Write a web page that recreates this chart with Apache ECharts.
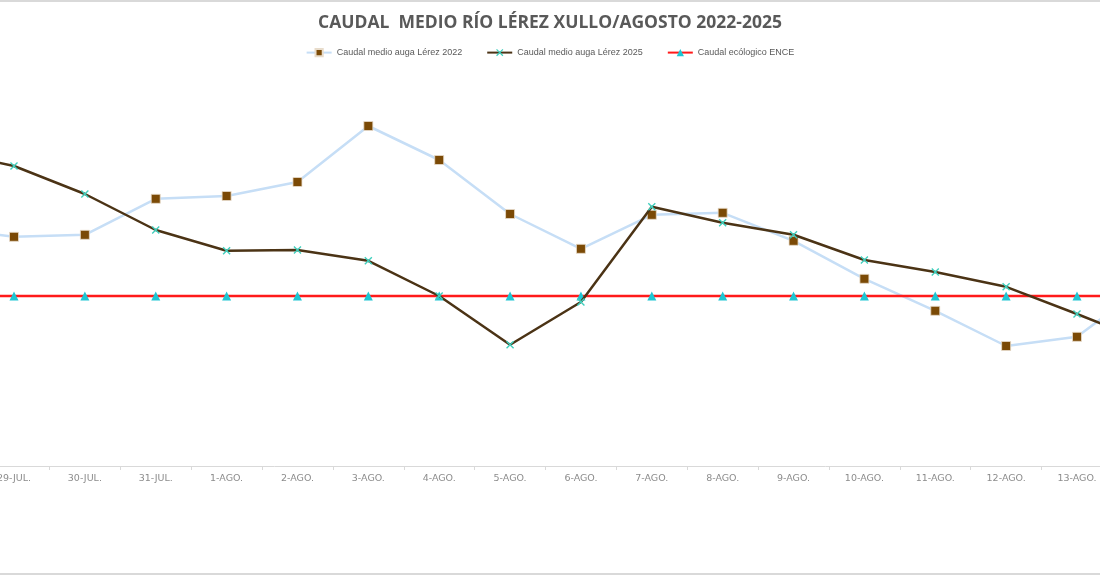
<!DOCTYPE html>
<html>
<head>
<meta charset="utf-8">
<script src="https://cdn.jsdelivr.net/npm/echarts@6/dist/echarts.min.js"></script>
<style>
html,body{margin:0;padding:0;background:#fff;}
#chart{width:1100px;height:575px;}
</style>
</head>
<body>
<div id="chart"></div>
<script>
// Categories (28-JUL and 14-AGO lie just outside the visible frame, as in the reference)
const categories = ['28-JUL.','29-JUL.','30-JUL.','31-JUL.','1-AGO.','2-AGO.','3-AGO.','4-AGO.','5-AGO.','6-AGO.','7-AGO.','8-AGO.','9-AGO.','10-AGO.','11-AGO.','12-AGO.','13-AGO.','14-AGO.'];
// Series values (hidden y-axis)
const caudal2022 = [5.97,5.73,5.78,6.68,6.75,7.10,8.50,7.65,6.30,5.43,6.28,6.33,5.63,4.68,3.88,3.00,3.23,4.55];
const caudal2025 = [7.88,7.50,6.80,5.90,5.38,5.40,5.13,4.25,3.03,4.10,6.48,6.08,5.78,5.15,4.85,4.48,3.80,3.10];
const caudalEcoloxico = [4.25,4.25,4.25,4.25,4.25,4.25,4.25,4.25,4.25,4.25,4.25,4.25,4.25,4.25,4.25,4.25,4.25,4.25];
const seriesNames = ['Caudal medio auga Lérez 2022','Caudal medio auga Lérez 2025','Caudal ecólogico ENCE'];
const titleText = 'CAUDAL  MEDIO RÍO LÉREZ XULLO/AGOSTO 2022-2025';

const xSymbol = 'path://M0,1.2 L1.2,0 L5,3.8 L8.8,0 L10,1.2 L6.2,5 L10,8.8 L8.8,10 L5,6.2 L1.2,10 L0,8.8 L3.8,5 Z';

const chart = echarts.init(document.getElementById('chart'));
chart.setOption({
  backgroundColor: '#ffffff',
  animation: false,
  title: {
    text: titleText,
    left: 'center',
    top: 9,
    textStyle: {
      fontFamily: 'Open Sans',
      fontSize: 17.5,
      fontWeight: 'bold',
      color: '#595959'
    }
  },
  legend: {
    top: 43,
    left: 'center',
    itemGap: 24,
    itemWidth: 25,
    itemHeight: 9,
    textStyle: {
      fontFamily: 'Liberation Sans Narrow, Liberation Sans, sans-serif',
      fontSize: 9,
      color: '#595959'
    },
    data: seriesNames
  },
  graphic: [
    {type:'line', shape:{x1:0,y1:1,x2:1100,y2:1}, style:{stroke:'#d9d9d9', lineWidth:2}, silent:true},
    {type:'line', shape:{x1:0,y1:574,x2:1100,y2:574}, style:{stroke:'#d9d9d9', lineWidth:2}, silent:true}
  ],
  grid: {
    left: -92.3,
    right: -83.3,
    top: 66,
    bottom: 109,
    containLabel: false,
    outerBoundsMode: 'none'
  },
  xAxis: {
    type: 'category',
    data: categories,
    boundaryGap: true,
    axisLine: {lineStyle: {color: '#d9d9d9', width: 1}},
    axisTick: {show: true, length: 4, lineStyle: {color: '#d9d9d9'}},
    axisLabel: {
      color: '#8c8c8c',
      fontFamily: 'DejaVu Sans',
      fontSize: 9.5,
      margin: 8,
      interval: 0
    },
    splitLine: {show: false}
  },
  yAxis: {
    type: 'value',
    min: 0,
    max: 10,
    show: false,
    splitLine: {show: false}
  },
  series: [
    {
      name: seriesNames[0],
      type: 'line',
      data: caudal2022,
      z: 2,
      symbol: 'rect',
      symbolSize: 9,
      lineStyle: {color: '#c6def6', width: 2.5},
      itemStyle: {color: '#7b4a06', borderColor: '#e8dccb', borderWidth: 0.8}
    },
    {
      name: seriesNames[1],
      type: 'line',
      data: caudal2025,
      z: 4,
      symbol: xSymbol,
      symbolSize: 8,
      lineStyle: {color: '#4b3315', width: 2.5},
      itemStyle: {color: '#3fcfbd', borderWidth: 0}
    },
    {
      name: seriesNames[2],
      type: 'line',
      data: caudalEcoloxico,
      z: 3,
      symbol: 'triangle',
      symbolSize: 9,
      lineStyle: {color: '#ff1a1a', width: 2.5},
      itemStyle: {color: '#1ec6d3', borderWidth: 0}
    }
  ]
});
</script>
</body>
</html>
